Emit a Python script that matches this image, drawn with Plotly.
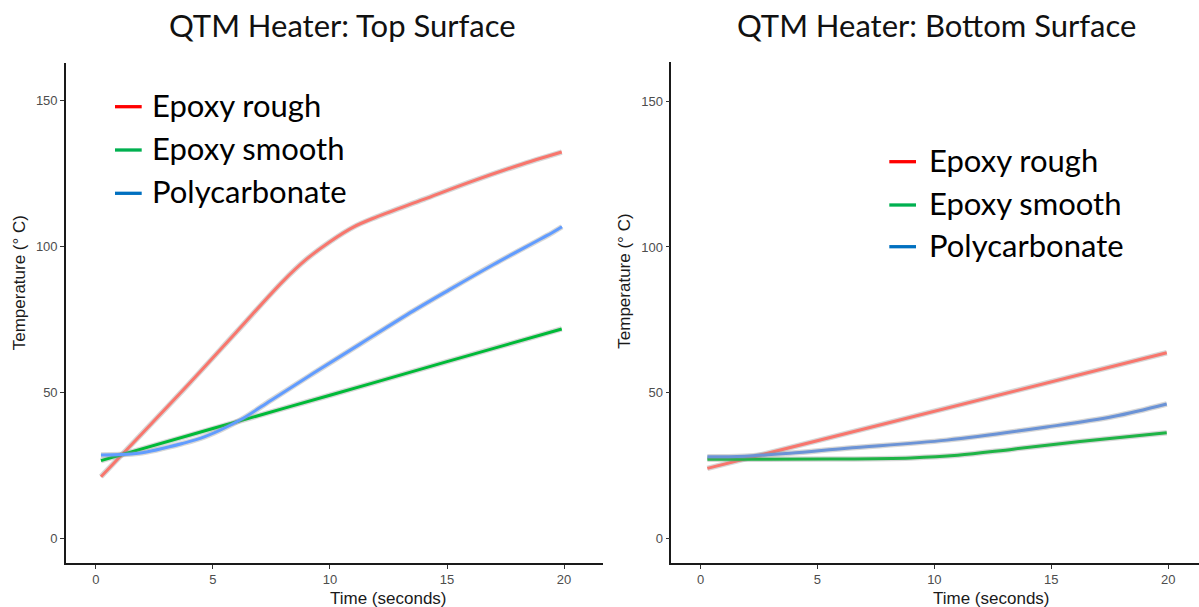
import plotly.graph_objects as go

W, H = 1199, 607

# ---------------- data ----------------
series_names = ["Epoxy rough", "Epoxy smooth", "Polycarbonate"]

# Top surface
top_rough_t = [0.22, 2, 4, 6, 8, 9, 10, 11, 12, 14, 16, 18, 19.9]
top_rough_v = [21, 36, 53, 70.5, 88, 95.5, 101.5, 106.5, 110, 116, 122, 127.5, 132.2]
top_smooth_t = [0.22, 5, 10, 15, 19.9]
top_smooth_v = [26.5, 37.5, 48.9, 60.4, 71.6]
top_poly_t = [0.22, 1.82, 3.72, 4.66, 6.16, 7.51, 9.29, 11.3, 13.56, 15.09, 16.99, 19.54, 19.91]
top_poly_v = [28.4, 29.0, 32.4, 34.7, 40.4, 47.3, 56.4, 66.5, 77.8, 85.0, 93.7, 104.8, 106.6]

# Bottom surface
bot_rough_t = [0.29, 19.94]
bot_rough_v = [24.0, 63.7]
bot_smooth_t = [0.29, 5.53, 9.0, 11.0, 13.37, 16.23, 19.94]
bot_smooth_v = [27.1, 27.2, 27.6, 28.5, 30.6, 33.2, 36.2]
bot_poly_t = [0.29, 1.88, 3.82, 6.25, 10.53, 14.8, 17.65, 19.94]
bot_poly_v = [28.0, 28.2, 29.2, 30.9, 33.7, 38.2, 41.8, 46.1]

x_ticks = [0, 5, 10, 15, 20]
y_ticks = [0, 50, 100, 150]

titles = ["QTM Heater: Top Surface", "QTM Heater: Bottom Surface"]
x_title = "Time (seconds)"
y_title = "Temperature (° C)"

line_colors_top = ["#F8766D", "#00BA38", "#619CFF"]
line_colors_bot = ["#F8766D", "#1EB446", "#6B93D6"]
legend_colors = ["#FF0000", "#00B050", "#0070C0"]

# ---------------- figure ----------------
fig = go.Figure()

def add_series(t, v, color, xa, ya):
    # grey confidence-band halo
    fig.add_trace(go.Scatter(x=t, y=v, mode="lines", xaxis=xa, yaxis=ya,
                             line=dict(color="rgba(140,140,140,0.35)", width=5.5, shape="spline"),
                             showlegend=False, hoverinfo="skip"))
    fig.add_trace(go.Scatter(x=t, y=v, mode="lines", xaxis=xa, yaxis=ya,
                             line=dict(color=color, width=3, shape="spline"),
                             showlegend=False))

top = [(top_rough_t, top_rough_v), (top_smooth_t, top_smooth_v), (top_poly_t, top_poly_v)]
bot = [(bot_rough_t, bot_rough_v), (bot_smooth_t, bot_smooth_v), (bot_poly_t, bot_poly_v)]
for (t, v), c in zip(top, line_colors_top):
    add_series(t, v, c, "x", "y")
for (t, v), c in zip(bot, line_colors_bot):
    add_series(t, v, c, "x2", "y2")

tickfont = dict(family="Liberation Sans, Arial, sans-serif", size=13, color="#4D4D4D")
axis_common = dict(showgrid=False, zeroline=False, showline=True, linecolor="#1a1a1a",
                   linewidth=1.6, ticks="outside", ticklen=4, tickcolor="#333333",
                   tickwidth=1, tickfont=tickfont, fixedrange=True)

fig.update_layout(
    width=W, height=H,
    margin=dict(l=0, r=0, t=0, b=0),
    paper_bgcolor="white", plot_bgcolor="white",
    showlegend=False,
    xaxis=dict(domain=[66 / W, 602.7 / W], range=[-1.273, 21.65], tickvals=x_ticks,
               anchor="y", **axis_common),
    yaxis=dict(domain=[1 - 563 / H, 1 - 63 / H], range=[-8.56, 162.7], tickvals=y_ticks,
               anchor="x", **axis_common),
    xaxis2=dict(domain=[671.3 / W, 1.0], range=[-1.253, 21.32], tickvals=x_ticks,
                anchor="y2", **axis_common),
    yaxis2=dict(domain=[1 - 563 / H, 1 - 62 / H], range=[-8.48, 163.5], tickvals=y_ticks,
                anchor="x2", **axis_common),
)

def px(x, y):
    return x / W, 1 - y / H

annos = []
title_font = dict(family="Lato, Carlito, Calibri, sans-serif", size=31, color="#111111")
for txt, cx in zip(titles, [342, 936]):
    xp, yp = px(cx, 25)
    annos.append(dict(text=txt, x=xp, y=yp, xref="paper", yref="paper", showarrow=False,
                      xanchor="center", yanchor="middle", font=title_font))

axt_font = dict(family="Liberation Sans, Arial, sans-serif", size=17, color="#1a1a1a")
for cx in [388, 991.7]:
    xp, yp = px(cx, 598)
    annos.append(dict(text=x_title, x=xp, y=yp, xref="paper", yref="paper", showarrow=False,
                      xanchor="center", yanchor="middle", font=axt_font))
for cx, cy in [(19, 283.3), (625, 281.7)]:
    xp, yp = px(cx, cy)
    annos.append(dict(text=y_title, x=xp, y=yp, xref="paper", yref="paper", showarrow=False,
                      xanchor="center", yanchor="middle", textangle=-90, font=axt_font))

# legends (drawn as text + short line keys)
shapes = []
leg_font = dict(family="Lato, Carlito, Calibri, sans-serif", size=31, color="#000000")
legend_layouts = [
    dict(x0=115, x1=141.7, tx=150, rows=[106.7, 150, 193.3]),
    dict(x0=889.3, x1=916, tx=926.7, rows=[161.7, 205, 246.7]),
]
for lay in legend_layouts:
    for name, col, ry in zip(series_names, legend_colors, lay["rows"]):
        x0p, yp = px(lay["x0"], ry)
        x1p, _ = px(lay["x1"], ry)
        shapes.append(dict(type="line", xref="paper", yref="paper", x0=x0p, x1=x1p, y0=yp, y1=yp,
                           line=dict(color=col, width=3.3)))
        txp, typ = px(lay["tx"], ry - 2)
        annos.append(dict(text=name, x=txp, y=typ, xref="paper", yref="paper", showarrow=False,
                          xanchor="left", yanchor="middle", font=leg_font))

fig.update_layout(annotations=annos, shapes=shapes)
fig.write_html("out.html")
